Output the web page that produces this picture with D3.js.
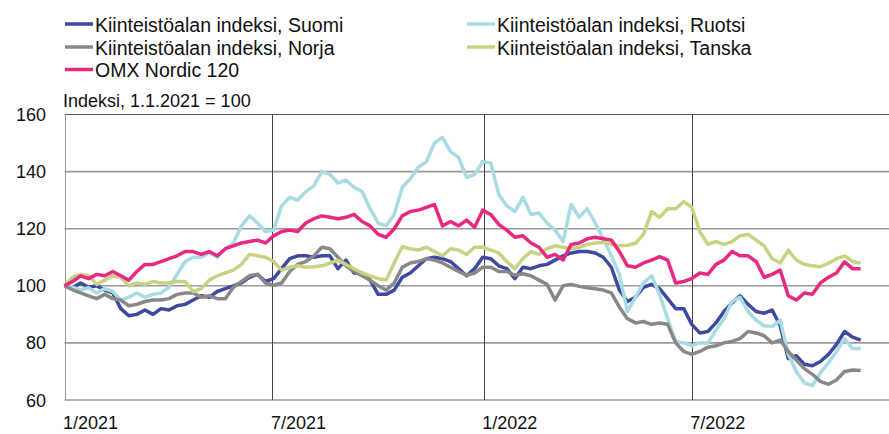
<!DOCTYPE html>
<html>
<head>
<meta charset="utf-8">
<script src="https://cdn.jsdelivr.net/npm/d3@7"></script>
<style>
  body { margin: 0; background: #fff; }
  svg { font-family: 'Liberation Sans', Arial, sans-serif; }
</style>
</head>
<body>
<svg id="chart" width="889" height="434"></svg>
<script>
// weekly observations starting 1.1.2021
const startDate = new Date(2021, 0, 1);
const stepDays = 7;

const seriesNames = [
  'Kiinteistöalan indeksi, Suomi',
  'Kiinteistöalan indeksi, Ruotsi',
  'Kiinteistöalan indeksi, Norja',
  'Kiinteistöalan indeksi, Tanska',
  'OMX Nordic 120'
];
const seriesColors = ['#3d4a9f', '#a8dbe2', '#888888', '#c7d283', '#e8297f'];

const suomi = [
  100, 99.3, 101, 99.5, 100, 98.5, 97.5, 92, 89.5, 90,
  91.5, 90, 92, 91.5, 93, 93.5, 95, 96.5, 96, 98,
  99, 100, 101, 103, 104, 101.5, 102.5, 106, 109.5, 110.5,
  110.5, 110, 110.5, 110.5, 106, 109, 104.5, 104.5, 102, 97,
  97, 98.5, 103, 104.5, 107, 109.5, 110, 109.5, 108.5, 106,
  103.5, 106, 110, 109.5, 107, 106, 102.5, 106.5, 106, 107,
  107.5, 109, 110.5, 111.5, 112, 112, 111.5, 110, 106.5, 98.5,
  94.5, 96, 99.5, 100.5, 99, 95.5, 92, 92, 86.5, 83.5,
  84, 87, 91, 94, 96.5, 93.5, 91, 90.4, 91.5, 86,
  74.5, 75.5, 72.5, 72, 73.5, 76, 79.5, 84, 82, 81
];
const ruotsi = [
  100, 99.5, 98.6, 99.3, 97.5, 99, 98, 95, 96, 97.5,
  96, 97, 97.5, 99.5, 104, 108.5, 110, 110, 111.5, 110,
  113, 115, 121, 124.5, 122, 119, 119.5, 128, 131, 130,
  133, 135, 140, 139, 136, 137, 134.5, 133, 127, 122,
  121, 125, 134.5, 137.5, 141.5, 143.5, 150, 152, 147, 145,
  138, 139, 143.5, 143, 132, 128, 126, 131, 125, 125.5,
  122, 119.5, 115.5, 128.5, 124, 127, 122, 116.5, 110.5, 104,
  91, 96, 101, 103.5, 97, 88.5, 80.5, 80, 79, 80,
  80, 84.5, 88.5, 94.5, 96, 91, 88, 86, 85.7, 88,
  76, 70, 66, 65, 69.5, 73, 77, 81.5, 78, 78
];
const norja = [
  100, 98.6, 97.5, 96.5, 95.5, 97, 95.5, 95, 93, 93.5,
  94.5, 95, 95, 95.5, 97, 97.5, 97.5, 96, 96.5, 95.5,
  95.5, 99.5, 101.5, 103.5, 104, 101, 100.2, 101, 105, 107.5,
  108.5, 110.5, 113.5, 113, 110, 107, 105, 103.5, 102, 100,
  98.5, 101, 106.5, 108, 108.5, 109.5, 109, 108, 106.5, 105,
  103.7, 104.5, 106.5, 106.5, 105, 105, 103.7, 104.2, 103.5, 102,
  100.5, 95, 100, 100.5, 99.8, 99.3, 99, 98.5, 97.5, 92.5,
  88.5, 87, 87.5, 86.5, 87, 86.5, 80, 77, 76, 77,
  78.5, 79, 80, 80.5, 81.5, 84, 83.5, 82.5, 80, 81,
  77, 74, 71, 69, 66.5, 65.5, 67, 70, 70.5, 70.3
];
const tanska = [
  100, 103, 104, 103.5, 100.5, 102, 103.5, 103, 100, 101,
  100.5, 101.5, 101, 101, 101.5, 101.5, 98, 99, 102, 103.5,
  104.5, 105.5, 107.5, 111, 110.5, 110, 108.5, 105.5, 106.5, 107,
  106.5, 106.7, 107, 107.9, 109, 107.5, 106, 104.5, 103.5, 102.5,
  102, 108, 113.7, 113, 112.5, 113.5, 112, 110.5, 113, 112.5,
  111, 113.5, 113.5, 112.5, 111.5, 108.5, 106, 109.5, 112, 111,
  113, 114, 113.5, 113, 113.5, 114.5, 115, 115.2, 114.5, 114,
  114.2, 114.9, 118, 126, 124, 127, 127, 129.5, 127.5, 119,
  114.5, 115.5, 114.5, 115.5, 117.5, 118, 116, 114, 109.5, 108,
  112.5, 109, 107.5, 107, 106.7, 107.9, 109.5, 110.5, 108.5, 107.9
];
const omx = [
  100, 101.5, 103.5, 102.5, 104, 103.5, 105, 103.5, 102, 105,
  107.5, 107.5, 108.5, 109.5, 110.5, 112, 112, 111, 112, 110.5,
  113, 114, 115, 115.5, 116, 115, 117.5, 119, 119.5, 119,
  122, 123.5, 124.5, 124, 123.5, 124, 125, 122.5, 121, 118,
  117, 120, 124.5, 126, 126.5, 127.5, 128.5, 121, 122.5, 121,
  123, 120.5, 126.5, 125, 121.5, 119.5, 117, 117.5, 115, 113.5,
  110, 111, 109, 114.5, 115, 116.5, 117, 116.5, 116, 112,
  107, 106.5, 108, 109, 110.2, 109, 101, 101.5, 102.5, 104.5,
  104, 107.5, 109, 112, 110.5, 110.5, 108.5, 103, 104, 105.5,
  96.5, 95, 97.5, 97, 101, 103, 104.5, 108.4, 106, 106
];
const seriesValues = [suomi, ruotsi, norja, tanska, omx];

const yTicks = [60, 80, 100, 120, 140, 160];
const xTickDates = [new Date(2021, 0, 1), new Date(2021, 6, 1), new Date(2022, 0, 1), new Date(2022, 6, 1)];
const xTickLabels = ['1/2021', '7/2021', '1/2022', '7/2022'];

const plot = { left: 64.5, top: 114.5, bottom: 400, right: 889 };

const svg = d3.select('#chart');

const xScale = d3.scaleTime()
  .domain([new Date(2021, 0, 1), new Date(2022, 11, 31)])
  .range([plot.left, 902]);
const yScale = d3.scaleLinear()
  .domain([60, 160])
  .range([plot.bottom, plot.top]);

// horizontal grid
svg.append('g').selectAll('line')
  .data(yTicks)
  .enter()
  .append('line')
  .attr('x1', plot.left)
  .attr('x2', plot.right)
  .attr('y1', d => yScale(d))
  .attr('y2', d => yScale(d))
  .attr('stroke', d => d === 160 ? '#555' : '#9a9a9a')
  .attr('stroke-width', d => d === 160 ? 1.2 : 1.6);

// vertical grid
svg.append('g').selectAll('line')
  .data(xTickDates)
  .enter()
  .append('line')
  .attr('x1', d => Math.round(xScale(d)) + 0.5)
  .attr('x2', d => Math.round(xScale(d)) + 0.5)
  .attr('y1', plot.top)
  .attr('y2', plot.bottom)
  .attr('stroke', d => +d === +xTickDates[0] ? '#9a9a9a' : '#444')
  .attr('stroke-width', 1);

// y labels
svg.append('g').selectAll('text')
  .data(yTicks)
  .enter()
  .append('text')
  .attr('x', 46)
  .attr('y', d => yScale(d) + 6.5)
  .attr('text-anchor', 'end')
  .attr('font-size', 18)
  .attr('fill', '#111')
  .text(d => d);

// x labels
svg.append('g').selectAll('text')
  .data(xTickDates)
  .enter()
  .append('text')
  .attr('x', d => xScale(d) - 1.5)
  .attr('y', 429)
  .attr('font-size', 18)
  .attr('fill', '#111')
  .text((d, i) => xTickLabels[i]);

svg.append('text')
  .attr('x', 63)
  .attr('y', 107)
  .attr('font-size', 18)
  .attr('fill', '#111')
  .text('Indeksi, 1.1.2021 = 100');

// lines
const line = d3.line()
  .x((d, i) => xScale(d3.timeDay.offset(startDate, i * stepDays)))
  .y(d => yScale(d))
  .curve(d3.curveLinear);

svg.append('g').selectAll('path')
  .data(seriesValues)
  .enter()
  .append('path')
  .attr('d', d => line(d))
  .attr('fill', 'none')
  .attr('stroke', (d, i) => seriesColors[i])
  .attr('stroke-width', 3.5)
  .attr('stroke-linejoin', 'round');

// legend
const legendPos = [
  { x: 65, y: 24 }, { x: 467, y: 24 },
  { x: 65, y: 47 }, { x: 467, y: 47 },
  { x: 65, y: 69.5 }
];
const legend = svg.append('g').selectAll('g')
  .data(seriesNames)
  .enter()
  .append('g')
  .attr('transform', (d, i) => `translate(${legendPos[i].x}, ${legendPos[i].y})`);

legend.append('line')
  .attr('x1', 0)
  .attr('x2', 28)
  .attr('stroke', (d, i) => seriesColors[i])
  .attr('stroke-width', 3.5);

legend.append('text')
  .attr('x', 30)
  .attr('y', 7.5)
  .attr('font-size', 19.5)
  .attr('fill', '#111')
  .text(d => d);
</script>
</body>
</html>
